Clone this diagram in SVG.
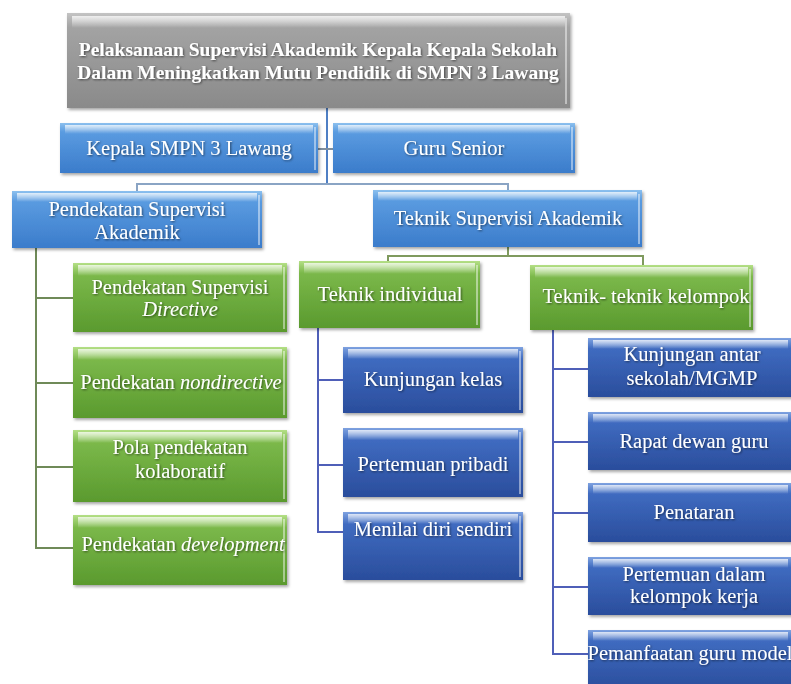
<svg xmlns="http://www.w3.org/2000/svg" width="791" height="684" viewBox="0 0 791 684" font-family="Liberation Serif, Times New Roman, DejaVu Serif, serif">
<defs>
<linearGradient id="gGray" x1="0" y1="0" x2="0" y2="1"><stop offset="0" stop-color="#c4c4c4"/><stop offset="0.15" stop-color="#a3a3a3"/><stop offset="1" stop-color="#8a8a8a"/></linearGradient>
<linearGradient id="gLb" x1="0" y1="0" x2="0" y2="1"><stop offset="0" stop-color="#8cc0ee"/><stop offset="0.18" stop-color="#5a9be0"/><stop offset="1" stop-color="#3b7ccb"/></linearGradient>
<linearGradient id="gGr" x1="0" y1="0" x2="0" y2="1"><stop offset="0" stop-color="#b4df86"/><stop offset="0.18" stop-color="#7bb84a"/><stop offset="1" stop-color="#5a9a2e"/></linearGradient>
<linearGradient id="gDb" x1="0" y1="0" x2="0" y2="1"><stop offset="0" stop-color="#7ea2e0"/><stop offset="0.18" stop-color="#3f6bc0"/><stop offset="1" stop-color="#2a4d9c"/></linearGradient>
<linearGradient id="hl" x1="0" y1="0" x2="0" y2="1"><stop offset="0" stop-color="#fff" stop-opacity="0.75"/><stop offset="1" stop-color="#fff" stop-opacity="0"/></linearGradient>
<filter id="ts" x="-5%" y="-20%" width="110%" height="140%"><feDropShadow dx="1" dy="1" stdDeviation="0.8" flood-color="#000" flood-opacity="0.55"/></filter>
<filter id="bs" x="-5%" y="-10%" width="112%" height="130%"><feDropShadow dx="1.5" dy="2" stdDeviation="1.5" flood-color="#000" flood-opacity="0.35"/></filter>
<clipPath id="cTop"><rect x="67" y="13" width="503" height="95"/></clipPath>
<clipPath id="cKel"><rect x="530" y="265" width="223" height="65"/></clipPath>
<clipPath id="cG2"><rect x="73" y="347" width="214" height="71"/></clipPath>
<clipPath id="cG4"><rect x="73" y="515" width="214" height="70"/></clipPath>
<clipPath id="cB5"><rect x="588" y="630" width="203" height="60"/></clipPath>
</defs>
<style>
.t{fill:#fff;text-anchor:middle;font-size:20.5px;filter:url(#ts)}
.tb{font-weight:bold;font-size:19.5px}
.hl{fill:url(#hl)}
.edge{fill:none;stroke:#ffffff;stroke-opacity:0.45;stroke-width:2}
.box{filter:url(#bs)}
.c{fill:none;stroke-width:2}
</style>
<rect width="791" height="684" fill="#ffffff"/>
<g id="connectors">
<path class="c" stroke="#4f7fc4" d="M327 108V183"/>
<path class="c" stroke="#7f8fa0" d="M318 149H333"/>
<path class="c" stroke="#8aa4c4" d="M137 191V184H508V190"/>
<path class="c" stroke="#7f9a5e" d="M508 247V256H388V261"/>
<path class="c" stroke="#7f9a5e" d="M508 256H643V266"/>
<path class="c" stroke="#6f8a58" d="M36 248V548H74M36 298H74M36 383H74M36 467H74"/>
<path class="c" stroke="#4f5fb8" d="M318 328V532H344M318 380H344M318 465H344"/>
<path class="c" stroke="#4f5fb8" d="M553 330V654H589M553 369H589M553 442H589M553 513H589M553 587H589"/>
</g>
<g id="n-top">
<rect class="box" x="67" y="13" width="503" height="95" fill="url(#gGray)"/>
<rect class="hl" x="72" y="16" width="493" height="12"/>
<path class="edge" d="M566 18V104"/>
<g clip-path="url(#cTop)">
<text class="t tb" x="318" y="56">Pelaksanaan Supervisi Akademik Kepala Kepala Sekolah</text>
<text class="t tb" x="318" y="79">Dalam Meningkatkan Mutu Pendidik di SMPN 3 Lawang</text>
</g>
</g>
<g id="n-kepala">
<rect class="box" x="60" y="123" width="258" height="50" fill="url(#gLb)"/>
<rect class="hl" x="65" y="125" width="248" height="9"/>
<path class="edge" d="M315 127V170"/>
<text class="t" x="189" y="155">Kepala SMPN 3 Lawang</text>
</g>
<g id="n-guru">
<rect class="box" x="333" y="123" width="242" height="50" fill="url(#gLb)"/>
<rect class="hl" x="338" y="125" width="232" height="9"/>
<path class="edge" d="M572 127V170"/>
<text class="t" x="454" y="155">Guru Senior</text>
</g>
<g id="n-pendekatan">
<rect class="box" x="12" y="191" width="250" height="57" fill="url(#gLb)"/>
<rect class="hl" x="17" y="193" width="240" height="9"/>
<path class="edge" d="M259 195V245"/>
<text class="t" x="137" y="216">Pendekatan Supervisi</text>
<text class="t" x="137" y="239">Akademik</text>
</g>
<g id="n-teknik">
<rect class="box" x="373" y="190" width="269" height="57" fill="url(#gLb)"/>
<rect class="hl" x="378" y="192" width="259" height="9"/>
<path class="edge" d="M639 194V244"/>
<text class="t" x="508" y="225">Teknik Supervisi Akademik</text>
</g>
<g id="n-individual">
<rect class="box" x="299" y="261" width="181" height="67" fill="url(#gGr)"/>
<rect class="hl" x="304" y="263" width="171" height="11"/>
<path class="edge" d="M477 265V325"/>
<text class="t" x="390" y="301">Teknik individual</text>
</g>
<g id="n-kelompok">
<rect class="box" x="530" y="265" width="223" height="65" fill="url(#gGr)"/>
<rect class="hl" x="535" y="267" width="213" height="11"/>
<path class="edge" d="M750 269V327"/>
<g clip-path="url(#cKel)"><text class="t" x="646" y="303">Teknik- teknik kelompok</text></g>
</g>
<g id="n-g1">
<rect class="box" x="73" y="263" width="214" height="69" fill="url(#gGr)"/>
<rect class="hl" x="78" y="265" width="204" height="11"/>
<path class="edge" d="M284 267V329"/>
<text class="t" x="180" y="294">Pendekatan Supervisi</text>
<text class="t" x="180" y="316"><tspan font-style="italic">Directive</tspan></text>
</g>
<g id="n-g2">
<rect class="box" x="73" y="347" width="214" height="71" fill="url(#gGr)"/>
<rect class="hl" x="78" y="349" width="204" height="11"/>
<path class="edge" d="M284 351V415"/>
<g clip-path="url(#cG2)"><text class="t" x="181" y="389">Pendekatan <tspan font-style="italic">nondirective</tspan></text></g>
</g>
<g id="n-g3">
<rect class="box" x="73" y="430" width="214" height="72" fill="url(#gGr)"/>
<rect class="hl" x="78" y="432" width="204" height="11"/>
<path class="edge" d="M284 434V499"/>
<text class="t" x="180" y="454">Pola pendekatan</text>
<text class="t" x="180" y="478">kolaboratif</text>
</g>
<g id="n-g4">
<rect class="box" x="73" y="515" width="214" height="70" fill="url(#gGr)"/>
<rect class="hl" x="78" y="517" width="204" height="11"/>
<path class="edge" d="M284 519V582"/>
<g clip-path="url(#cG4)"><text class="t" x="183" y="551">Pendekatan <tspan font-style="italic">development</tspan></text></g>
</g>
<g id="n-b1">
<rect class="box" x="343" y="347" width="180" height="66" fill="url(#gDb)"/>
<rect class="hl" x="348" y="349" width="170" height="10"/>
<path class="edge" d="M520 351V410"/>
<text class="t" x="433" y="386">Kunjungan kelas</text>
</g>
<g id="n-b2">
<rect class="box" x="343" y="428" width="180" height="69" fill="url(#gDb)"/>
<rect class="hl" x="348" y="430" width="170" height="10"/>
<path class="edge" d="M520 432V494"/>
<text class="t" x="433" y="471">Pertemuan pribadi</text>
</g>
<g id="n-b3">
<rect class="box" x="343" y="512" width="180" height="68" fill="url(#gDb)"/>
<rect class="hl" x="348" y="514" width="170" height="10"/>
<path class="edge" d="M520 516V577"/>
<text class="t" x="433" y="536">Menilai diri sendiri</text>
</g>
<g id="n-k1">
<rect class="box" x="588" y="338" width="205" height="59" fill="url(#gDb)"/>
<rect class="hl" x="593" y="340" width="195" height="9"/>
<text class="t" x="692" y="361">Kunjungan antar</text>
<text class="t" x="692" y="385">sekolah/MGMP</text>
</g>
<g id="n-k2">
<rect class="box" x="588" y="412" width="205" height="58" fill="url(#gDb)"/>
<rect class="hl" x="593" y="414" width="195" height="9"/>
<text class="t" x="694" y="448">Rapat dewan guru</text>
</g>
<g id="n-k3">
<rect class="box" x="588" y="483" width="205" height="59" fill="url(#gDb)"/>
<rect class="hl" x="593" y="485" width="195" height="9"/>
<text class="t" x="694" y="519">Penataran</text>
</g>
<g id="n-k4">
<rect class="box" x="588" y="557" width="205" height="58" fill="url(#gDb)"/>
<rect class="hl" x="593" y="559" width="195" height="9"/>
<text class="t" x="694" y="581">Pertemuan dalam</text>
<text class="t" x="694" y="603">kelompok kerja</text>
</g>
<g id="n-k5">
<rect class="box" x="588" y="630" width="205" height="60" fill="url(#gDb)"/>
<rect class="hl" x="593" y="632" width="195" height="9"/>
<g clip-path="url(#cB5)"><text class="t" x="690" y="660">Pemanfaatan guru model</text></g>
</g>
</svg>
